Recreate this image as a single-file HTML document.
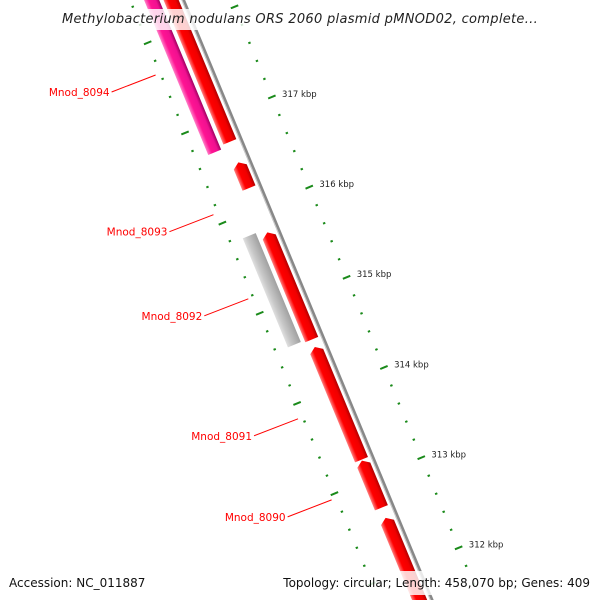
<!DOCTYPE html>
<html><head><meta charset="utf-8"><style>
html,body{margin:0;background:#fff;width:600px;height:600px;overflow:hidden}
svg{display:block;overflow:hidden;font-family:"DejaVu Sans","Liberation Sans",sans-serif}
</style></head><body>
<svg id="chart" width="600" height="600" viewBox="0 0 600 600" xmlns="http://www.w3.org/2000/svg">
<defs>
<clipPath id="frame"><rect x="0" y="0" width="600" height="600"/></clipPath>
<linearGradient id="gRed" x1="0" x2="1" y1="0" y2="0"><stop offset="0" stop-color="#ff8080"/><stop offset="0.3" stop-color="#ff0000"/><stop offset="0.75" stop-color="#f00000"/><stop offset="1" stop-color="#b00000"/></linearGradient>
<linearGradient id="gPink" x1="0" x2="1" y1="0" y2="0"><stop offset="0" stop-color="#ff80c8"/><stop offset="0.3" stop-color="#ff1493"/><stop offset="0.75" stop-color="#f01090"/><stop offset="1" stop-color="#a00060"/></linearGradient>
<linearGradient id="gGray" x1="0" x2="1" y1="0" y2="0"><stop offset="0" stop-color="#e0e0e0"/><stop offset="0.3" stop-color="#c8c8c8"/><stop offset="1" stop-color="#a0a0a0"/></linearGradient>
</defs>
<g clip-path="url(#frame)">
<g id="track" transform="translate(183,0) rotate(-22.5)"></g>
<g id="labels"></g>
</g>
<rect x="57" y="9" width="486" height="21" fill="#fff" opacity="0.82"/>
<text x="300" y="23" text-anchor="middle" font-size="13" letter-spacing="0.3" font-style="italic" fill="#222">Methylobacterium nodulans ORS 2060 plasmid pMNOD02, complete...</text>
<rect x="280" y="571" width="316" height="24" fill="#fff" opacity="0.82"/>
<text x="9" y="587" font-size="12" fill="#111">Accession: NC_011887</text>
<text x="590" y="587" text-anchor="end" font-size="12" fill="#111">Topology: circular; Length: 458,070 bp; Genes: 409</text>
</svg>
<script>
const featureNames=["Mnod_8094b","Mnod_8094","Mnod_8093","Mnod_8092g","Mnod_8092","Mnod_8091","Mnod_8090","Mnod_8089"];
const featureStart=[316740,316700,316227,314567,314547,313215,312682,311000];
const featureEnd=[318600,318600,316513,315775,315736,314465,313205,312570];
const featureLane=[0,1,0,1,0,0,0,0];
const featureKind=["red","pink","red","gray","red","red","red","red"];
const labelNames=["Mnod_8094","Mnod_8093","Mnod_8092","Mnod_8091","Mnod_8090"];
const labelBp=[317664,316115,315182,313851,312952];
const majorTicks=[312,313,314,315,316,317];
const NS="http://www.w3.org/2000/svg";
const TH=22.5*Math.PI/180,SN=Math.sin(TH),CS=Math.cos(TH);
function sOf(bp){return 123.6+(317000-bp)*0.0976;}
function scr(s,r){return [183+s*SN+r*CS, s*CS-r*SN];}
const track=document.getElementById('track'),labels=document.getElementById('labels');
function mk(t,a,p){const e=document.createElementNS(NS,t);for(const k in a)e.setAttribute(k,a[k]);p.appendChild(e);return e;}
for(let bp=311000;bp<=318600;bp+=200){
  const s=sOf(bp),major=bp%1000===0;
  [45,-49].forEach((rc,i)=>{
    const L=major?4:1.2;
    const t=mk('line',{x1:rc-L,x2:rc+L,y1:s,y2:s,stroke:'#1a8a1a','stroke-width':2},track);
    
    
  });
}
majorTicks.forEach(k=>{
  const s=sOf(k*1000);const p=scr(s,56);
  const t=mk('text',{x:p[0],y:p[1]+4,'font-size':8.5,fill:'#222'},labels);
  t.textContent=k+' kbp';
  
  
});
const bb=mk('rect',{x:-1.5,y:-60,width:3.5,height:760,fill:'#888'},track);


mk('rect',{x:-1.5,y:-60,width:1,height:760,fill:'#ccc'},track);
const lanes=[[-18,-4],[-36,-22]];
const fills={red:'url(#gRed)',pink:'url(#gPink)',gray:'url(#gGray)'};
featureNames.forEach((n,i)=>{
  const s1=sOf(featureEnd[i]),s2=sOf(featureStart[i]);
  const [a,b]=lanes[featureLane[i]];const m=(a+b)/2;
  let d;
  if(featureKind[i]==='gray'){d=`M${a} ${s1}L${b} ${s1}L${b} ${s2}L${a} ${s2}Z`;}
  else{const h=Math.min(5,s2-s1);d=`M${a} ${s1+h}L${m} ${s1}L${b} ${s1+h}L${b} ${s2}L${a} ${s2}Z`;}
  const p=mk('path',{d:d,fill:fills[featureKind[i]]},track);
  
  
});
labelNames.forEach((n,i)=>{
  const s=sOf(labelBp[i]);const e=scr(s,-54);
  const x2=e[0]-44,y2=e[1]+17;
  const l=mk('line',{x1:e[0],y1:e[1],x2:x2,y2:y2,stroke:'#f00','stroke-width':1},labels);
  
  
  const t=mk('text',{x:x2-2,y:y2+4,'text-anchor':'end','font-size':10.5,fill:'#f00'},labels);
  t.textContent=n;
  
  
});
</script>
</body></html>
